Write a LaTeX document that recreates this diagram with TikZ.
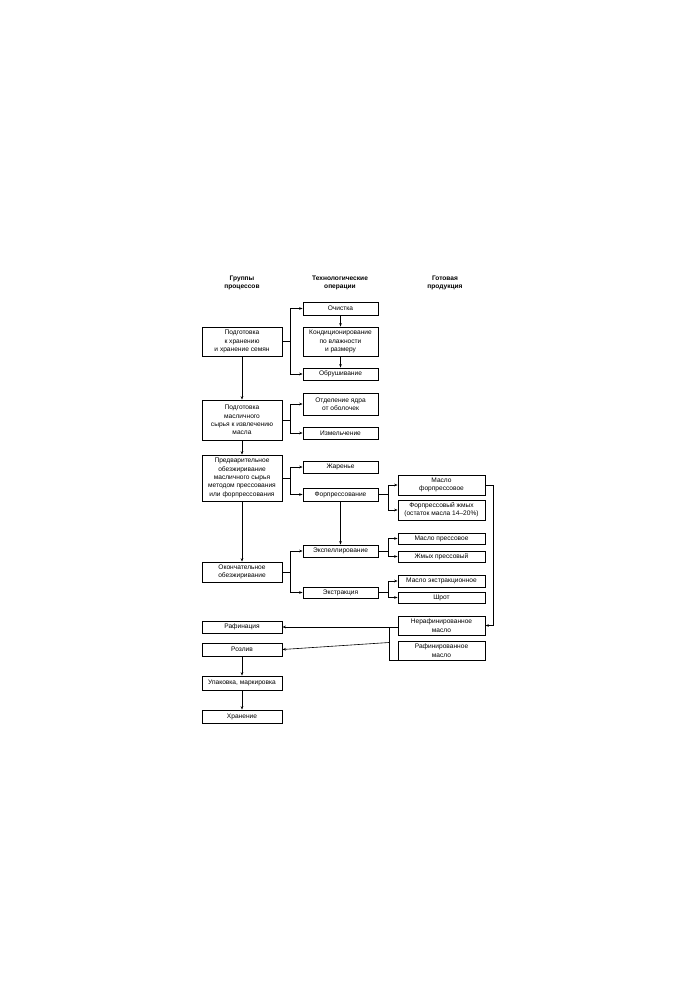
\documentclass[tikz,border=0pt]{standalone}
\usepackage{fontspec}
\setmainfont{Liberation Sans}
\usetikzlibrary{arrows.meta}
\newcommand{\bx}[6][]{\node[boxst,#1,minimum width={(#4)-(#2)},minimum height={(#5)-(#3)}] (#6) at ({((#2)+(#4))/2},{((#3)+(#5))/2}) {};}
\begin{document}
\begin{tikzpicture}[x=1pt,y=-1pt,
 boxst/.style={draw,line width=0.8pt,inner sep=0pt,align=center,font=\fontsize{6.6}{8.3}\selectfont},
 hd/.style={align=center,font=\fontsize{6.6}{8.3}\selectfont\bfseries},
 ln/.style={line width=0.6pt},
 ar/.style={ln,-{Stealth[length=3.5pt,width=2.6pt]}}]
\useasboundingbox (0,0) rectangle (693,1000);
\node[hd] (h1) at (242,283) {Группы\\процессов};
\node[hd] (h2) at (340,283) {Технологические\\операции};
\node[hd] (h3) at (445,283) {Готовая\\продукция};
\newcommand{\B}[6]{\node[boxst,minimum width={#3-#1},minimum height={#4-#2}] (#5) at ({(#1+#3)/2},{(#2+#4)/2}) {#6};}
\B{202}{327}{282}{356}{p1}{Подготовка\\к хранению\\и хранение семян}
\B{303}{302}{378}{315}{och}{Очистка}
\B{303}{327}{378}{356}{kond}{Кондиционирование\\по влажности\\и размеру}
\B{303}{368}{378}{380}{obr}{Обрушивание}
\B{202}{400}{282}{440}{p2}{Подготовка\\масличного\\сырья к извлечению\\масла}
\B{303}{393}{378}{415}{otd}{Отделение ядра\\от оболочек}
\B{303}{427}{378}{439}{izm}{Измельчение}
\B{202}{455}{282}{501}{p3}{Предварительное\\обезжиривание\\масличного сырья\\методом прессования\\или форпрессования}
\B{303}{461}{378}{473}{zhar}{Жаренье}
\B{303}{488}{378}{501}{forp}{Форпрессование}
\B{398}{475}{485}{495}{mf}{Масло\\форпрессовое}
\B{398}{500}{485}{520}{fzh}{Форпрессовый жмых\\(остаток масла 14–20\%)}
\B{303}{545}{378}{557}{eksp}{Экспеллирование}
\B{398}{533}{485}{544}{mp}{Масло прессовое}
\B{398}{551}{485}{562}{zhp}{Жмых прессовый}
\B{202}{562}{282}{582}{p4}{Окончательное\\обезжиривание}
\B{303}{587}{378}{598}{ekstr}{Экстракция}
\B{398}{575}{485}{587}{me}{Масло экстракционное}
\B{398}{592}{485}{603}{shr}{Шрот}
\B{202}{621}{282}{633}{raf}{Рафинация}
\B{398}{616}{485}{635}{neraf}{Нерафинированное\\масло}
\B{398}{641}{485}{660}{rafm}{Рафинированное\\масло}
\B{202}{643}{282}{656}{rozl}{Розлив}
\B{202}{676}{282}{690}{upak}{Упаковка, маркировка}
\B{202}{710}{282}{723}{hran}{Хранение}
% vertical flow
\draw[ar] (p1) -- (p2);
\draw[ar] (p2) -- (p3);
\draw[ar] (p3) -- (p4);
\draw[ar] (rozl) -- (upak);
\draw[ar] (upak) -- (hran);
\draw[ar] (och) -- (kond);
\draw[ar] (kond) -- (obr);
\draw[ar] (forp) -- (eksp);
% branches
\foreach \s/\a/\b/\x in {p1/och/obr/290,p2/otd/izm/290,p3/zhar/forp/290,p4/eksp/ekstr/290,forp/mf/fzh/388,eksp/mp/zhp/388,ekstr/me/shr/388}{
 \draw[ln] (\s.east) -- (\x,0 |- \s.east) coordinate (c);
 \draw[ar] (\x,0 |- \s.east) |- (\a.west);
 \draw[ar] (\x,0 |- \s.east) |- (\b.west);
}
\coordinate (rr) at (493,0);
\draw[ar] (mf.east) -| (rr |- neraf.east) -- (neraf.east);
\draw[ar] (neraf.west |- raf.east) -- (raf.east);
\coordinate (bk) at (389,0);
\draw[ln] (neraf.west |- raf.east) -- (bk |- raf.east) -- (bk |- rafm.south) -- (rafm.south west);
\draw[ar] (bk |- rafm.west) ++(0,-8) -- (rozl.east);
\end{tikzpicture}
\end{document}
